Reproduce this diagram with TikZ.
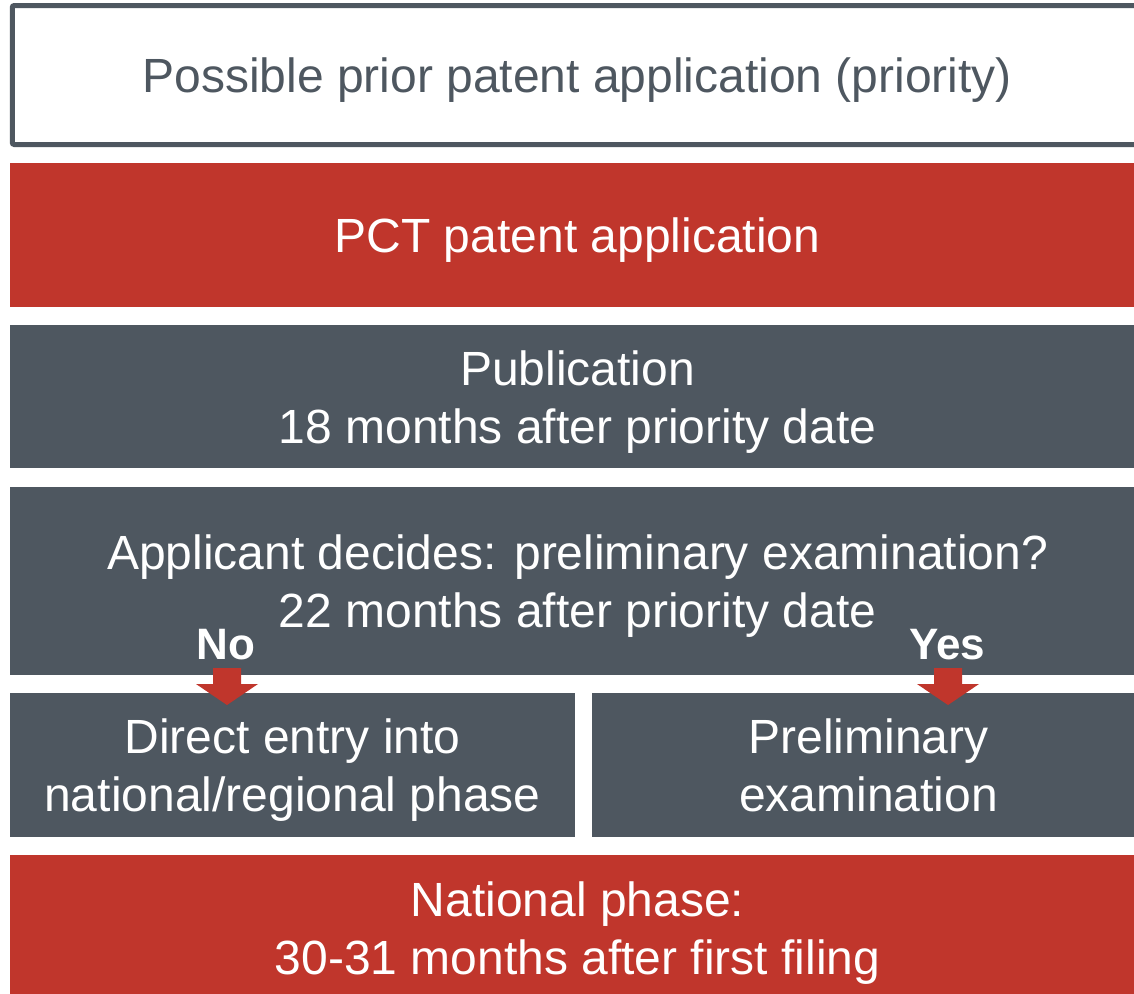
\documentclass[tikz,border=0pt]{standalone}
\usepackage{fontspec}
\setmainfont{Liberation Sans}
\usepackage{xcolor}
\usetikzlibrary{positioning,calc}

\definecolor{pctred}{RGB}{192,54,44}
\definecolor{slate}{RGB}{78,87,96}

% struts that set the text a little lower in its box
\newcommand{\tstrut}{\rule{0pt}{46pt}}
\newcommand{\bstrut}{\rule[-11pt]{0pt}{11pt}}

\tikzset{
    box/.style={rectangle, inner sep=0pt, outer sep=0pt, align=center,
        font=\fontsize{48}{58}\selectfont},
    outlinebox/.style={box, draw=slate, line width=5pt, rounded corners=2pt,
        fill=white, text=slate},
    redbox/.style={box, fill=pctred, text=white},
    graybox/.style={box, fill=slate, text=white},
    answer/.style={inner sep=0pt, text=white, font=\fontsize{44}{50}\selectfont\bfseries},
    blockarrow/.style={fill=pctred}
}

\begin{document}
\begin{tikzpicture}[x=1pt, y=-1pt]
    \useasboundingbox (0,0) rectangle (1134,993);

    % stages, top to bottom
    \node[outlinebox, minimum width=1130, minimum height=139] (prior) at (577.25,75)
        {\tstrut Possible prior patent application (priority)\bstrut};
    \node[redbox, minimum width=1135, minimum height=144] (pct) at (577.5,235)
        {\tstrut PCT patent application\bstrut};
    \node[graybox, minimum width=1135, minimum height=143] (publication) at (577.5,396.5)
        {\tstrut Publication\\18 months after priority date\bstrut};
    \node[graybox, minimum width=1135, minimum height=188] (decide) at (577.5,581)
        {\tstrut Applicant decides: preliminary examination?\\22 months after priority date\bstrut};

    % the two branches
    \node[graybox, minimum width=565, minimum height=144] (direct) at (292.5,765)
        {\tstrut Direct entry into\\national/regional phase\bstrut};
    \node[graybox, minimum width=553, minimum height=144] (prelim) at (868.5,765)
        {\tstrut Preliminary\\examination\bstrut};

    \node[redbox, minimum width=1135, minimum height=146] (national) at (577.5,928)
        {\tstrut National phase:\\30-31 months after first filing\bstrut};

    % answers
    \node[answer] (lblNo) at (226,645) {No};
    \node[answer] (lblYes) at (947,645) {Yes};

    % block arrows into the branches
    \coordinate (noTip) at ($(lblNo |- direct.north)+(1,12)$);
    \coordinate (yesTip) at ($(lblYes |- prelim.north)+(1,12)$);
    \fill[blockarrow] (noTip) -- ++(-31,-21) -- ++(17,0) -- ++(0,-16) -- ++(28,0)
        -- ++(0,16) -- ++(17,0) -- cycle;
    \fill[blockarrow] (yesTip) -- ++(-31,-21) -- ++(17,0) -- ++(0,-16) -- ++(28,0)
        -- ++(0,16) -- ++(17,0) -- cycle;
\end{tikzpicture}
\end{document}
